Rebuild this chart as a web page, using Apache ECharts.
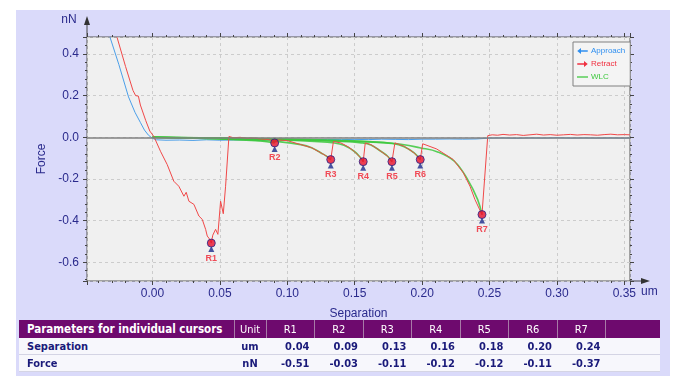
<!DOCTYPE html>
<html><head><meta charset="utf-8">
<script src="https://cdn.jsdelivr.net/npm/echarts@6/dist/echarts.min.js"></script>
<style>
html,body{margin:0;padding:0;background:#fff;width:680px;height:376px;overflow:hidden}
#panel{position:absolute;left:16px;top:10px;width:654px;height:366px;background:#dadafa;}
#chart{position:absolute;left:0;top:0;width:680px;height:376px}
#tbl{position:absolute;left:19px;top:320px;border-collapse:collapse;table-layout:fixed;
  font-family:'DejaVu Sans Condensed','DejaVu Sans',sans-serif;font-stretch:condensed;font-size:11px;}
#tbl td{padding:0 5px;white-space:nowrap;overflow:hidden;}
#tbl tr.h td{background:#6e0a6e;color:#fff;height:18px;text-align:center;border-left:1px solid #a77aa7;}
#tbl tr.h td:first-child{text-align:left;font-weight:bold;font-size:11.5px;border-left:none;padding-left:8px}
#tbl tr.r td{background:#f7f7fc;color:#1a1a7a;font-weight:bold;height:16px;text-align:right;border-bottom:1px solid #d4d4e4;}
#tbl tr.r td:first-child{text-align:left;padding-left:8px}
#tbl tr.r td.u{text-align:center}
</style></head>
<body>
<div id="panel"></div>
<div id="chart"></div>
<table id="tbl"></table>
<script>
// ---------------- data ----------------
const legendNames = ['Approach', 'Retract', 'WLC'];
const cursorNames = ['R1','R2','R3','R4','R5','R6','R7'];
const cursorSep   = [0.0436, 0.0906, 0.1322, 0.1563, 0.1776, 0.1986, 0.2444];
const cursorForce = [-0.508, -0.027, -0.107, -0.117, -0.117, -0.107, -0.371];
const tableRows = ['Separation', 'Force'];
const tableUnits = ['um', 'nN'];
const xTickStep = 0.05, yTickStep = 0.2;

const approachPts = [
  [-0.0315,0.48],[-0.025,0.35],[-0.0178,0.194],[-0.013,0.12],[-0.0089,0.07],[-0.006,0.035],
  [-0.003,0.01],[0.0,-0.005],[0.003,-0.012],[0.01,-0.014],[0.02,-0.013],[0.03,-0.015],[0.04,-0.012],
  [0.05,-0.014],[0.06,-0.013],[0.07,-0.012],[0.08,-0.014],[0.09,-0.011],[0.10,-0.012],[0.11,-0.011],
  [0.12,-0.012],[0.13,-0.010],[0.14,-0.011],[0.15,-0.010],[0.16,-0.011],[0.17,-0.009],[0.18,-0.010],
  [0.19,-0.011],[0.20,-0.009],[0.21,-0.009],[0.22,-0.008],[0.23,-0.009],[0.24,-0.008],[0.25,-0.004],
  [0.26,-0.003],[0.27,-0.005],[0.28,-0.003],[0.29,-0.004],[0.30,-0.002],[0.31,-0.004],[0.32,-0.003],
  [0.33,-0.004],[0.34,-0.003],[0.35,-0.004],[0.354,-0.003]
];

const retractPts = [
  [-0.0263,0.48],[-0.02,0.34],[-0.0145,0.225],[-0.0125,0.2],[-0.0105,0.198],[-0.009,0.155],
  [-0.005,0.08],[-0.002,0.03],[0.001,0.004],[0.0059,-0.067],[0.0109,-0.131],[0.0158,-0.211],
  [0.0195,-0.235],[0.0233,-0.283],[0.025,-0.264],[0.027,-0.307],[0.0307,-0.322],[0.032,-0.314],
  [0.0344,-0.378],[0.0369,-0.394],[0.0394,-0.442],[0.0406,-0.474],[0.0425,-0.49],[0.0436,-0.508],
  [0.0447,-0.47],[0.0456,-0.477],[0.0468,-0.442],[0.0485,-0.466],[0.0505,-0.307],[0.0525,-0.367],
  [0.0542,-0.235],[0.0567,0.004],[0.06,-0.002],[0.065,0.0],[0.07,-0.005],[0.075,-0.003],
  [0.08,-0.008],[0.085,-0.010],[0.089,-0.015],[0.0906,-0.027],[0.092,-0.012],[0.10,-0.016],
  [0.11,-0.035],[0.118,-0.05],[0.125,-0.075],[0.129,-0.09],[0.1322,-0.107],[0.1342,-0.02],
  [0.1397,-0.027],[0.145,-0.045],[0.1496,-0.067],[0.1545,-0.099],[0.1563,-0.117],[0.1578,-0.027],
  [0.162,-0.035],[0.1694,-0.067],[0.1744,-0.091],[0.1776,-0.117],[0.1798,-0.027],[0.1867,-0.043],
  [0.1941,-0.075],[0.1986,-0.107],[0.2004,-0.031],[0.2108,-0.056],[0.2231,-0.107],[0.2306,-0.171],
  [0.2355,-0.235],[0.2392,-0.299],[0.2444,-0.371],[0.2487,0.008],[0.252,0.012],[0.256,0.010],
  [0.26,0.014],[0.265,0.011],[0.27,0.013],[0.275,0.009],[0.28,0.012],[0.285,0.015],[0.29,0.011],
  [0.295,0.013],[0.30,0.010],[0.305,0.012],[0.31,0.014],[0.315,0.011],[0.32,0.013],[0.325,0.012],
  [0.33,0.010],[0.335,0.013],[0.34,0.015],[0.345,0.012],[0.35,0.013],[0.354,0.012]
];

const wlcR2 = [[0,0],[0.05,-0.008],[0.08,-0.018],[0.0906,-0.027]];
const wlcR3 = [[0,0],[0.04,-0.005],[0.07,-0.012],[0.095,-0.022],[0.11,-0.035],[0.118,-0.05],[0.125,-0.075],[0.129,-0.09],[0.1322,-0.107]];
const wlcR4 = [[0,0],[0.05,-0.005],[0.09,-0.012],[0.12,-0.02],[0.135,-0.027],[0.142,-0.038],[0.1496,-0.067],[0.1545,-0.099],[0.1563,-0.117]];
const wlcR5 = [[0,0],[0.06,-0.005],[0.10,-0.012],[0.14,-0.02],[0.155,-0.027],[0.162,-0.037],[0.1694,-0.067],[0.1744,-0.091],[0.1776,-0.117]];
const wlcR6 = [[0,0],[0.07,-0.006],[0.12,-0.014],[0.16,-0.022],[0.178,-0.03],[0.1867,-0.045],[0.1941,-0.075],[0.1986,-0.107]];
const wlcR7 = [[0,0],[0.08,-0.006],[0.14,-0.015],[0.18,-0.03],[0.199,-0.051],[0.2115,-0.07],[0.2239,-0.115],[0.2338,-0.203],[0.2412,-0.299],[0.2444,-0.371]];
const wlcCurves = [wlcR2, wlcR3, wlcR4, wlcR5, wlcR6, wlcR7];

// ---------------- table ----------------
(function(){
  const t = document.getElementById('tbl');
  const widths = [215, 32, 48.5, 48.5, 48.5, 48.5, 48.5, 48.5, 48.5, 54];
  const cg = document.createElement('colgroup');
  widths.forEach(w => { const c = document.createElement('col'); c.style.width = w + 'px'; cg.appendChild(c); });
  t.appendChild(cg);
  let h = '<tr class="h"><td>Parameters for individual cursors</td><td>Unit</td>' +
    cursorNames.map(n => '<td>' + n + '</td>').join('') + '<td></td></tr>';
  const vals = [cursorSep, cursorForce];
  tableRows.forEach((r, i) => {
    h += '<tr class="r"><td>' + r + '</td><td class="u">' + tableUnits[i] + '</td>' +
      vals[i].map(v => '<td>' + v.toFixed(2) + '</td>').join('') + '<td></td></tr>';
  });
  t.innerHTML += h;
})();

// ---------------- chart ----------------
const labelColor = '#2a2a8c';
const axisColor = '#444';
const font = "'Liberation Sans', Arial, sans-serif";
const xMin = -0.0486, xMax = 0.3542, yMin = -0.69, yMax = 0.4817;

function xFmt(v){ const k = Math.round(v / xTickStep); if (Math.abs(v - k * xTickStep) > 1e-6 || k < 0) return ''; return (k * xTickStep).toFixed(2); }
function yFmt(v){ const k = Math.round(v / yTickStep); if (Math.abs(v - k * yTickStep) > 1e-6) return ''; return (k * yTickStep).toFixed(1); }

function tickCommon(){
  return {
    axisLine: { show: false, onZero: false },
    axisTick: { show: true, inside: false, length: 4, lineStyle: { color: axisColor } },
    minorTick: { show: true, splitNumber: 5, length: 2, lineStyle: { color: axisColor } }
  };
}

const leftArrow = 'path://M0,4 L5,0 L5,3 L14,3 L14,5 L5,5 L5,8 Z';
const rightArrow = 'path://M14,4 L9,0 L9,3 L0,3 L0,5 L9,5 L9,8 Z';
const thinLine = 'path://M0,3.2 L14,3.2 L14,4.8 L0,4.8 Z';

const series = [];
series.push({
  name: 'Approach', type: 'line', data: approachPts, showSymbol: false, symbol: 'none',
  lineStyle: { color: '#4a9ee8', width: 1 }, itemStyle: { color: '#2f8ff0' }, z: 2,
  markLine: { silent: true, symbol: 'none', label: { show: false },
    lineStyle: { color: '#808080', width: 1.5, type: 'solid' }, data: [{ yAxis: 0 }] }
});
wlcCurves.forEach(c => series.push({
  name: 'WLC', type: 'line', data: c, smooth: 0.4, showSymbol: false, symbol: 'none',
  lineStyle: { color: '#3cc83c', width: 1.6, opacity: 0.85 }, itemStyle: { color: '#3cc83c' }, z: 3
}));
series.push({
  name: 'Retract', type: 'line', data: retractPts, showSymbol: false, symbol: 'none',
  lineStyle: { color: '#f04848', width: 1 }, itemStyle: { color: '#f03040' }, z: 4
});
const cursorData = cursorNames.map((n, i) => ({ name: n, value: [cursorSep[i], cursorForce[i]] }));
series.push({
  type: 'scatter', data: cursorData, symbol: 'triangle', symbolSize: 6, symbolOffset: [0, 6],
  itemStyle: { color: '#1c2a8c' }, z: 5, silent: true
});
series.push({
  type: 'scatter', data: cursorData, symbol: 'circle', symbolSize: 8,
  itemStyle: { color: '#e8102a', borderColor: '#23238a', borderWidth: 1 }, z: 6, silent: true,
  label: { show: true, position: 'bottom', distance: 6, formatter: '{b}', color: '#f02030',
    fontWeight: 'bold', fontSize: 9, fontFamily: font }
});

const option = {
  animation: false,
  textStyle: { fontFamily: font },
  grid: { left: 87, top: 37, width: 543, height: 244, show: true, backgroundColor: '#f0f0f0',
    borderColor: '#555', borderWidth: 1 },
  xAxis: [
    Object.assign({ type: 'value', min: xMin, max: xMax, splitNumber: 8, position: 'bottom',
      axisLabel: { formatter: xFmt, color: labelColor, fontSize: 12, margin: 7, fontFamily: font },
      splitLine: { show: true, lineStyle: { color: '#cccccc', type: [3, 3] } },
      name: 'Separation', nameLocation: 'middle', nameGap: 27,
      nameTextStyle: { color: labelColor, fontSize: 12, fontFamily: font } }, tickCommon()),
    Object.assign({ type: 'value', min: xMin, max: xMax, splitNumber: 8, position: 'top',
      axisLabel: { show: false }, splitLine: { show: false } }, tickCommon())
  ],
  yAxis: [
    Object.assign({ type: 'value', min: yMin, max: yMax, splitNumber: 5, position: 'left',
      axisLabel: { formatter: yFmt, color: labelColor, fontSize: 12, margin: 8, fontFamily: font },
      splitLine: { show: true, lineStyle: { color: '#cccccc', type: [3, 3] } },
      name: 'Force', nameLocation: 'middle', nameGap: 39,
      nameTextStyle: { color: labelColor, fontSize: 12, fontFamily: font } }, tickCommon()),
    Object.assign({ type: 'value', min: yMin, max: yMax, splitNumber: 5, position: 'right',
      axisLabel: { show: false }, splitLine: { show: false } }, tickCommon())
  ],
  legend: {
    left: 573, top: 42, orient: 'vertical', align: 'left', itemWidth: 11, itemHeight: 6, itemGap: 5,
    padding: [5, 5, 5, 4], backgroundColor: '#f4f4f4', borderColor: '#808080', borderWidth: 1,
    textStyle: { fontSize: 8, fontFamily: font, padding: [0, 0, 0, -2] },
    data: [
      { name: legendNames[0], icon: leftArrow, itemStyle: { color: '#2f8ff0' }, textStyle: { color: '#2f8ff0' } },
      { name: legendNames[1], icon: rightArrow, itemStyle: { color: '#f03040' }, textStyle: { color: '#f03040' } },
      { name: legendNames[2], icon: thinLine, itemStyle: { color: '#3cc83c' }, textStyle: { color: '#3cc83c' } }
    ]
  },
  graphic: [
    { type: 'line', silent: true, shape: { x1: 630, y1: 281, x2: 645, y2: 281 }, style: { stroke: '#444', lineWidth: 1 } },
    { type: 'polygon', silent: true, shape: { points: [[650, 281], [641, 278], [641, 284]] }, style: { fill: '#333' } },
    { type: 'line', silent: true, shape: { x1: 87, y1: 37, x2: 87, y2: 22 }, style: { stroke: '#444', lineWidth: 1 } },
    { type: 'polygon', silent: true, shape: { points: [[87, 16], [84, 25], [90, 25]] }, style: { fill: '#333' } },
    { type: 'text', silent: true, x: 69, y: 20, style: { text: 'nN', fill: labelColor, font: '12px ' + font,
      align: 'center', verticalAlign: 'middle', textAlign: 'center', textVerticalAlign: 'middle' } },
    { type: 'text', silent: true, x: 641, y: 292, style: { text: 'um', fill: labelColor, font: '12px ' + font,
      align: 'left', verticalAlign: 'middle', textAlign: 'left', textVerticalAlign: 'middle' } }
  ],
  series: series
};
const chart = echarts.init(document.getElementById('chart'));
chart.setOption(option);
</script>
</body></html>
